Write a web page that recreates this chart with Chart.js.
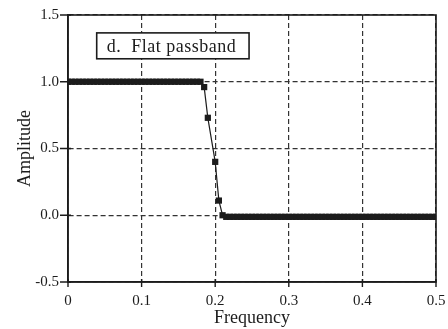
<!DOCTYPE html>
<html>
<head>
<meta charset="utf-8">
<script src="https://cdn.jsdelivr.net/npm/chart.js@4.4.0/dist/chart.umd.min.js"></script>
<style>
  html, body { margin: 0; padding: 0; background: #fff; }
  #wrap { width: 448px; height: 329px; }
</style>
</head>
<body>
<div id="wrap"><canvas id="chart"></canvas></div>
<script>
// passband samples, all at unity gain
const passFreq = [
  0, 0.005, 0.01, 0.015, 0.02, 0.025, 0.03, 0.035, 0.04, 0.045,
  0.05, 0.055, 0.06, 0.065, 0.07, 0.075, 0.08, 0.085, 0.09, 0.095,
  0.1, 0.105, 0.11, 0.115, 0.12, 0.125, 0.13, 0.135, 0.14, 0.145,
  0.15, 0.155, 0.16, 0.165, 0.17, 0.175, 0.18
]
const passAmp = [
  1, 1, 1, 1, 1, 1, 1, 1, 1, 1,
  1, 1, 1, 1, 1, 1, 1, 1, 1, 1,
  1, 1, 1, 1, 1, 1, 1, 1, 1, 1,
  1, 1, 1, 1, 1, 1, 1
]

// the roll-off
const edgeFreq = [0.185, 0.19, 0.2, 0.205, 0.21]
const edgeAmp = [0.96, 0.73, 0.40, 0.11, 0.0]

// stopband samples
const stopFreq = [
  0.215, 0.22, 0.225, 0.23, 0.235, 0.24, 0.245, 0.25, 0.255, 0.26,
  0.265, 0.27, 0.275, 0.28, 0.285, 0.29, 0.295, 0.3, 0.305, 0.31,
  0.315, 0.32, 0.325, 0.33, 0.335, 0.34, 0.345, 0.35, 0.355, 0.36,
  0.365, 0.37, 0.375, 0.38, 0.385, 0.39, 0.395, 0.4, 0.405, 0.41,
  0.415, 0.42, 0.425, 0.43, 0.435, 0.44, 0.445, 0.45, 0.455, 0.46,
  0.465, 0.47, 0.475, 0.48, 0.485, 0.49, 0.495, 0.5
]
const stopAmp = [
  -0.012, -0.012, -0.012, -0.012, -0.012, -0.012, -0.012, -0.012, -0.012, -0.012,
  -0.012, -0.012, -0.012, -0.012, -0.012, -0.012, -0.012, -0.012, -0.012, -0.012,
  -0.012, -0.012, -0.012, -0.012, -0.012, -0.012, -0.012, -0.012, -0.012, -0.012,
  -0.012, -0.012, -0.012, -0.012, -0.012, -0.012, -0.012, -0.012, -0.012, -0.012,
  -0.012, -0.012, -0.012, -0.012, -0.012, -0.012, -0.012, -0.012, -0.012, -0.012,
  -0.012, -0.012, -0.012, -0.012, -0.012, -0.012, -0.012, -0.012
]

const xTicks = [0, 0.1, 0.2, 0.3, 0.4, 0.5]
const yTicks = [-0.5, 0, 0.5, 1.0, 1.5]
const panelLabel = "d.  Flat passband"

const serif = "'Liberation Serif', 'DejaVu Serif', serif"
const ink = "#1c1c1c"

function toPoints(xs, ys) {
  return xs.map((x, i) => ({ x: x, y: ys[i] }))
}

const points = [].concat(
  toPoints(passFreq, passAmp),
  toPoints(edgeFreq, edgeAmp),
  toPoints(stopFreq, stopAmp)
)

// solid frame, short tick marks and the boxed label
const framePlugin = {
  id: "frame",
  afterDraw(chart) {
    const ctx = chart.ctx
    const a = chart.chartArea
    const xs = chart.scales.x
    const ys = chart.scales.y
    ctx.save()
    ctx.strokeStyle = ink
    ctx.lineWidth = 1.6
    ctx.strokeRect(a.left, a.top, a.right - a.left, a.bottom - a.top)

    ctx.lineWidth = 1.4
    ctx.beginPath()
    xTicks.forEach(v => {
      const px = xs.getPixelForValue(v)
      ctx.moveTo(px, a.bottom - 3)
      ctx.lineTo(px, a.bottom + 5)
    })
    yTicks.forEach(v => {
      const py = ys.getPixelForValue(v)
      ctx.moveTo(a.left - 8, py)
      ctx.lineTo(a.left + 3, py)
    })
    ctx.stroke()

    // label box
    const bx = xs.getPixelForValue(0.039)
    const by = ys.getPixelForValue(1.366)
    const bw = xs.getPixelForValue(0.246) - bx
    const bh = ys.getPixelForValue(1.172) - by
    ctx.fillStyle = "#fff"
    ctx.fillRect(bx, by, bw, bh)
    ctx.lineWidth = 1.6
    ctx.strokeRect(bx, by, bw, bh)
    ctx.fillStyle = ink
    ctx.font = "18px " + serif
    ctx.letterSpacing = "0.5px"
    ctx.textBaseline = "middle"
    ctx.textAlign = "left"
    ctx.fillText(panelLabel, bx + 10, by + bh / 2 + 1)
    ctx.restore()
  }
}

function chartConfig() {
  const chart = document.querySelector("#chart")
  const config = {
    type: "scatter",
    data: {
      datasets: [{
        data: points,
        showLine: true,
        borderColor: ink,
        borderWidth: 1.2,
        backgroundColor: ink,
        pointStyle: "rect",
        pointRadius: 4.4,
        pointBorderWidth: 0,
        pointHoverRadius: 4.4
      }]
    },
    options: {
      responsive: true,
      maintainAspectRatio: false,
      animation: false,
      events: [],
      layout: {
        padding: { top: 15, right: 12, left: 0, bottom: 0 }
      },
      plugins: {
        legend: { display: false },
        tooltip: { enabled: false }
      },
      scales: {
        x: {
          type: "linear",
          min: 0,
          max: 0.5,
          afterFit: (scale) => {
            scale.height = 47
            scale.paddingLeft = 0
            scale.paddingRight = 0
          },
          afterBuildTicks: (scale) => { scale.ticks = xTicks.map(v => ({ value: v })) },
          ticks: {
            color: ink,
            padding: 10,
            font: { family: serif, size: 15 },
            callback: (v) => v === 0 ? "0" : v.toFixed(1)
          },
          grid: {
            color: "#333",
            lineWidth: 1.2,
            drawTicks: false
          },
          border: { color: ink, width: 1.6, dash: [5, 3] },
          title: {
            display: true,
            text: "Frequency",
            color: ink,
            font: { family: serif, size: 18 },
            padding: { top: 0, bottom: 0 }
          }
        },
        y: {
          type: "linear",
          min: -0.5,
          max: 1.5,
          afterFit: (scale) => {
            scale.width = 68
            scale.paddingTop = 0
            scale.paddingBottom = 0
          },
          afterBuildTicks: (scale) => { scale.ticks = yTicks.map(v => ({ value: v })) },
          ticks: {
            color: ink,
            padding: 9,
            font: { family: serif, size: 15 },
            callback: (v) => v.toFixed(1)
          },
          grid: {
            color: "#333",
            lineWidth: 1.2,
            drawTicks: false
          },
          border: { color: ink, width: 1.6, dash: [5, 3] },
          title: {
            display: true,
            text: "Amplitude",
            color: ink,
            font: { family: serif, size: 18 },
            padding: { top: 14, bottom: 0 }
          }
        }
      }
    },
    plugins: [framePlugin]
  }
  new Chart(chart, config)
}

document.addEventListener("DOMContentLoaded", () => {
  chartConfig()
})
</script>
</body>
</html>
